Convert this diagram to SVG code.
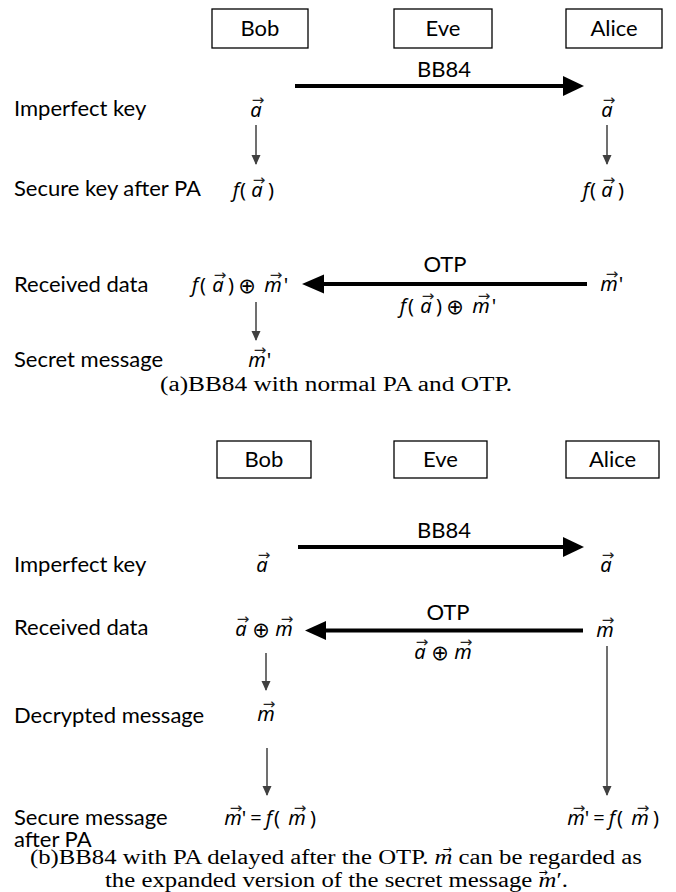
<svg xmlns="http://www.w3.org/2000/svg" width="676" height="892" viewBox="0 0 676 892">
  <defs>
    <style>
      .box { fill: #fff; stroke: #000; stroke-width: 1.3; }
      .lbl { font-family: Lato, "Liberation Sans", sans-serif; font-size: 22px; fill: #000; }
      .mid { text-anchor: middle; }
      .m { font-family: "Noto Sans", "DejaVu Sans", sans-serif; font-style: italic; font-size: 20px; fill: #000; text-anchor: middle; }
      .up { font-family: "Noto Sans", "DejaVu Sans", sans-serif; font-size: 20px; fill: #000; text-anchor: middle; }
      .op { font-family: "DejaVu Sans", sans-serif; font-size: 21px; fill: #000; text-anchor: middle; }
      .ar { font-family: "DejaVu Sans", sans-serif; font-size: 15px; fill: #222; text-anchor: middle; }
      .car { font-family: "DejaVu Sans", sans-serif; font-size: 11px; fill: #000; text-anchor: middle; }
      .cap { font-family: "Liberation Serif", "DejaVu Serif", serif; font-size: 20px; fill: #000; }
      .thick { stroke: #000; stroke-width: 4; fill: none; }
      .thin { stroke: #404040; stroke-width: 1.5; fill: none; marker-end: url(#thinHead); }
      .head { fill: #000; }
    </style>
    <marker id="thinHead" markerUnits="userSpaceOnUse" markerWidth="10" markerHeight="11" viewBox="0 0 10 11" refX="9" refY="5.5" orient="auto">
      <path d="M0,1 L10,5.5 L0,10 z" fill="#404040"/>
    </marker>
  </defs>

  <rect width="676" height="892" fill="#fff"/>

  <!-- (a) participants -->
  <g id="a-bob"><rect class="box" x="212" y="9" width="96" height="39"/><text class="lbl mid" x="260" y="36">Bob</text></g>
  <g id="a-eve"><rect class="box" x="394" y="9" width="98" height="39"/><text class="lbl mid" x="443" y="36">Eve</text></g>
  <g id="a-alice"><rect class="box" x="566" y="9" width="96" height="39"/><text class="lbl mid" x="614" y="36">Alice</text></g>

  <!-- (a) row labels -->
  <g id="a-rows">
    <text class="lbl" x="14" y="116">Imperfect key</text>
    <text class="lbl" x="14" y="196">Secure key after PA</text>
    <text class="lbl" x="14" y="292">Received data</text>
    <text class="lbl" x="14" y="367">Secret message</text>
  </g>

  <!-- (a) values -->
  <g id="a-bob-key"><text class="m" x="256" y="117">a</text><text class="ar" x="258" y="105">→</text></g>
  <g id="a-alice-key"><text class="m" x="607" y="117">a</text><text class="ar" x="609" y="105">→</text></g>
  <g id="a-bob-pa">
    <text class="m" x="236" y="197">f</text><text class="up" x="243" y="197">(</text>
    <text class="m" x="257" y="197">a</text><text class="ar" x="259" y="185">→</text>
    <text class="up" x="271" y="197">)</text>
  </g>
  <g id="a-alice-pa">
    <text class="m" x="586" y="197">f</text><text class="up" x="593" y="197">(</text>
    <text class="m" x="607" y="197">a</text><text class="ar" x="609" y="185">→</text>
    <text class="up" x="621" y="197">)</text>
  </g>
  <g id="a-bob-recv">
    <text class="m" x="195" y="292">f</text><text class="up" x="203" y="292">(</text>
    <text class="m" x="218" y="292">a</text><text class="ar" x="220" y="280">→</text>
    <text class="up" x="231" y="292">)</text>
    <text class="op" x="247" y="293">⊕</text>
    <text class="m" x="273" y="292">m</text><text class="ar" x="276" y="280">→</text>
    <text class="up" x="286" y="292">'</text>
  </g>
  <g id="a-alice-msg">
    <text class="m" x="609" y="291">m</text><text class="ar" x="612" y="279">→</text>
    <text class="up" x="621" y="291">'</text>
  </g>
  <g id="a-bob-secret">
    <text class="m" x="257" y="367">m</text><text class="ar" x="260" y="355">→</text>
    <text class="up" x="269" y="367">'</text>
  </g>

  <!-- (a) connectors -->
  <g id="a-connectors">
    <line class="thick" x1="295" y1="86" x2="565" y2="86"/>
    <polygon class="head" points="563,76 584,86 563,96"/>
    <text class="lbl mid" x="444" y="77">BB84</text>
    <line class="thin" x1="256" y1="125" x2="256" y2="164"/>
    <line class="thin" x1="607" y1="125" x2="607" y2="164"/>
    <line class="thick" x1="323" y1="284" x2="587" y2="284"/>
    <polygon class="head" points="324,274.5 302,284 324,293.5"/>
    <text class="lbl mid" x="445" y="272">OTP</text>
    <g id="a-otp-payload">
      <text class="m" x="403" y="313">f</text><text class="up" x="411" y="313">(</text>
      <text class="m" x="426" y="313">a</text><text class="ar" x="428" y="301">→</text>
      <text class="up" x="439" y="313">)</text>
      <text class="op" x="455" y="314">⊕</text>
      <text class="m" x="481" y="313">m</text><text class="ar" x="484" y="301">→</text>
      <text class="up" x="494" y="313">'</text>
    </g>
    <line class="thin" x1="256" y1="302" x2="256" y2="340"/>
  </g>

  <text class="cap" x="160" y="391" textLength="352" lengthAdjust="spacingAndGlyphs">(a)BB84 with normal PA and OTP.</text>

  <!-- (b) participants -->
  <g id="b-bob"><rect class="box" x="217" y="441" width="94" height="37"/><text class="lbl mid" x="264" y="467">Bob</text></g>
  <g id="b-eve"><rect class="box" x="394" y="441" width="93" height="37"/><text class="lbl mid" x="440.5" y="467">Eve</text></g>
  <g id="b-alice"><rect class="box" x="566" y="441" width="93" height="37"/><text class="lbl mid" x="612.5" y="467">Alice</text></g>

  <!-- (b) row labels -->
  <g id="b-rows">
    <text class="lbl" x="14" y="572">Imperfect key</text>
    <text class="lbl" x="14" y="635">Received data</text>
    <text class="lbl" x="14" y="723">Decrypted message</text>
    <text class="lbl" x="14" y="825">Secure message</text>
    <text class="lbl" x="14" y="847">after PA</text>
  </g>

  <!-- (b) values -->
  <g id="b-bob-key"><text class="m" x="262" y="572">a</text><text class="ar" x="264" y="560">→</text></g>
  <g id="b-alice-key"><text class="m" x="606" y="572">a</text><text class="ar" x="608" y="560">→</text></g>
  <g id="b-bob-recv">
    <text class="m" x="241" y="636">a</text><text class="ar" x="243" y="624">→</text>
    <text class="op" x="261" y="637">⊕</text>
    <text class="m" x="284" y="636">m</text><text class="ar" x="287" y="624">→</text>
  </g>
  <g id="b-alice-msg"><text class="m" x="605" y="637">m</text><text class="ar" x="608" y="625">→</text></g>
  <g id="b-bob-dec"><text class="m" x="266" y="721">m</text><text class="ar" x="269" y="709">→</text></g>
  <g id="b-bob-pa">
    <text class="m" x="233" y="825">m</text><text class="ar" x="236" y="813">→</text>
    <text class="up" x="244" y="825">'</text>
    <text class="up" x="256" y="825">=</text>
    <text class="m" x="269" y="825">f</text><text class="up" x="277" y="825">(</text>
    <text class="m" x="297" y="825">m</text><text class="ar" x="300" y="813">→</text>
    <text class="up" x="313" y="825">)</text>
  </g>
  <g id="b-alice-pa">
    <text class="m" x="576" y="825">m</text><text class="ar" x="579" y="813">→</text>
    <text class="up" x="587" y="825">'</text>
    <text class="up" x="599" y="825">=</text>
    <text class="m" x="612" y="825">f</text><text class="up" x="620" y="825">(</text>
    <text class="m" x="640" y="825">m</text><text class="ar" x="643" y="813">→</text>
    <text class="up" x="656" y="825">)</text>
  </g>

  <!-- (b) connectors -->
  <g id="b-connectors">
    <line class="thick" x1="298" y1="547" x2="565" y2="547"/>
    <polygon class="head" points="563,537 584,547 563,557"/>
    <text class="lbl mid" x="444" y="538">BB84</text>
    <line class="thick" x1="325" y1="630.5" x2="583" y2="630.5"/>
    <polygon class="head" points="326,621 305,630.5 326,640"/>
    <text class="lbl mid" x="448" y="620">OTP</text>
    <g id="b-otp-payload">
      <text class="m" x="420" y="659">a</text><text class="ar" x="422" y="647">→</text>
      <text class="op" x="440" y="660">⊕</text>
      <text class="m" x="463" y="659">m</text><text class="ar" x="466" y="647">→</text>
    </g>
    <line class="thin" x1="266" y1="653" x2="266" y2="690"/>
    <line class="thin" x1="267" y1="748" x2="267" y2="795"/>
    <line class="thin" x1="607" y1="646" x2="607" y2="795"/>
  </g>

  <g id="caption-b">
    <text class="cap" x="30" y="864" textLength="612" lengthAdjust="spacingAndGlyphs">(b)BB84 with PA delayed after the OTP. <tspan font-style="italic">m</tspan> can be regarded as</text>
    <text class="car" x="447" y="853">→</text>
    <text class="cap" x="105" y="887" textLength="463" lengthAdjust="spacingAndGlyphs">the expanded version of the secret message <tspan font-style="italic">m</tspan>′.</text>
    <text class="car" x="543" y="876">→</text>
  </g>
</svg>
